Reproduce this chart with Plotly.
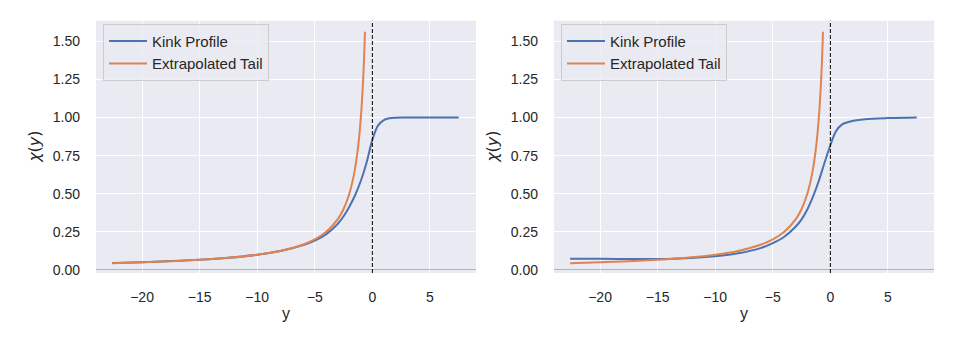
import plotly.graph_objects as go

kink_y = [-22.6, -20, -17.5, -15, -12.5, -10, -8, -6, -5, -4, -3, -2.5, -2,
          -1.5, -1, -0.5, 0, 0.5, 1, 1.5, 2, 3, 5, 7.5]
kink_left = [0.046, 0.051, 0.058, 0.067, 0.080, 0.100, 0.124, 0.163, 0.192,
             0.235, 0.303, 0.352, 0.415, 0.490, 0.585, 0.705, 0.853, 0.948,
             0.983, 0.995, 0.999, 1.0, 1.0, 1.0]
kink_right = [0.074, 0.073, 0.072, 0.072, 0.077, 0.090, 0.109, 0.145, 0.176,
              0.218, 0.285, 0.332, 0.397, 0.482, 0.585, 0.705, 0.818, 0.912,
              0.953, 0.969, 0.979, 0.989, 0.996, 1.0]

tail_y = [-22.6, -20, -17.5, -15, -12.5, -10, -8, -6, -5, -4, -3, -2.5, -2,
          -1.6, -1.3, -1.1, -0.95, -0.85, -0.77, -0.7, -0.64]
tail_chi = [0.044, 0.050, 0.057, 0.067, 0.080, 0.100, 0.125, 0.167, 0.200,
            0.250, 0.333, 0.400, 0.500, 0.625, 0.769, 0.909, 1.053, 1.176,
            1.299, 1.429, 1.563]

x_ticks = [-20, -15, -10, -5, 0, 5]
y_ticks = [0, 0.25, 0.5, 0.75, 1.0, 1.25, 1.5]

BLUE = '#4C72B0'
ORANGE = '#DD8452'
BG = '#EAEAF2'
TXT = '#262626'
FONT = 'Liberation Sans, Arial, sans-serif'

W, H = 969, 347
panels = [  # (x domain px, kink values)
    ((96, 476), kink_left),
    ((554, 934), kink_right),
]
y_dom = [(H - 277) / H, (H - 21) / H]

fig = go.Figure()

for i, ((x0, x1), kink) in enumerate(panels):
    n = '' if i == 0 else str(i + 1)
    leg = 'legend' if i == 0 else 'legend2'
    fig.add_trace(go.Scatter(
        x=kink_y, y=kink, mode='lines', name='Kink Profile',
        line=dict(color=BLUE, width=2, shape='spline', smoothing=1.0),
        xaxis='x' + n, yaxis='y' + n, legend=leg,
    ))
    fig.add_trace(go.Scatter(
        x=tail_y, y=tail_chi, mode='lines', name='Extrapolated Tail',
        line=dict(color=ORANGE, width=2, shape='spline', smoothing=0.8),
        xaxis='x' + n, yaxis='y' + n, legend=leg,
    ))

    axis_common = dict(
        showgrid=True, gridcolor='white', gridwidth=1, showline=False,
        ticks='', tickfont=dict(size=14, color=TXT, family=FONT),
    )
    fig.update_layout({
        'xaxis' + n: dict(
            domain=[x0 / W, x1 / W], range=[-24, 9], tickvals=x_ticks,
            zeroline=False, anchor='y' + n, ticklabelstandoff=14,
            **axis_common),
        'yaxis' + n: dict(
            domain=y_dom, range=[-0.02, 1.635], tickvals=y_ticks,
            tickformat='.2f', anchor='x' + n, ticklabelstandoff=15,
            zeroline=True, zerolinecolor='#b4b4b4', zerolinewidth=1.2,
            **axis_common),
        leg: dict(
            x=(x0 + 7) / W, y=1 - 24 / H, xanchor='left', yanchor='top',
            bgcolor='rgba(234,234,242,0.8)', bordercolor='#cccccc',
            borderwidth=1, font=dict(size=15, color=TXT, family=FONT),
            tracegroupgap=0, itemwidth=38,
        ),
    })

    # dashed marker at y = 0
    fig.add_shape(type='line', x0=0, x1=0, y0=0, y1=1,
                  xref='x' + n, yref=('y' + n) + ' domain',
                  line=dict(color='black', width=1, dash='4px,2px'))

    # axis titles
    fig.add_annotation(text='y', x=(x0 + x1) / 2 / W, y=1 - 318 / H,
                       xref='paper', yref='paper', showarrow=False,
                       xanchor='center', yanchor='middle',
                       font=dict(size=16, color=TXT, family=FONT))
    fig.add_annotation(text='<i>χ</i>(<i>y</i>)', x=(x0 - 61) / W, y=1 - 149 / H,
                       xref='paper', yref='paper', showarrow=False,
                       xanchor='center', yanchor='middle', textangle=-90,
                       font=dict(size=16, color=TXT, family='DejaVu Sans'))

fig.update_layout(
    width=W, height=H,
    margin=dict(l=0, r=0, t=0, b=0),
    paper_bgcolor='white',
    plot_bgcolor=BG,
    showlegend=True,
    font=dict(family=FONT, color=TXT),
)

# page body has a default 8px margin; drop it so the figure fills the window
fig.write_html('out.html', config={'displayModeBar': False},
               post_script="document.body.style.margin='0';")
